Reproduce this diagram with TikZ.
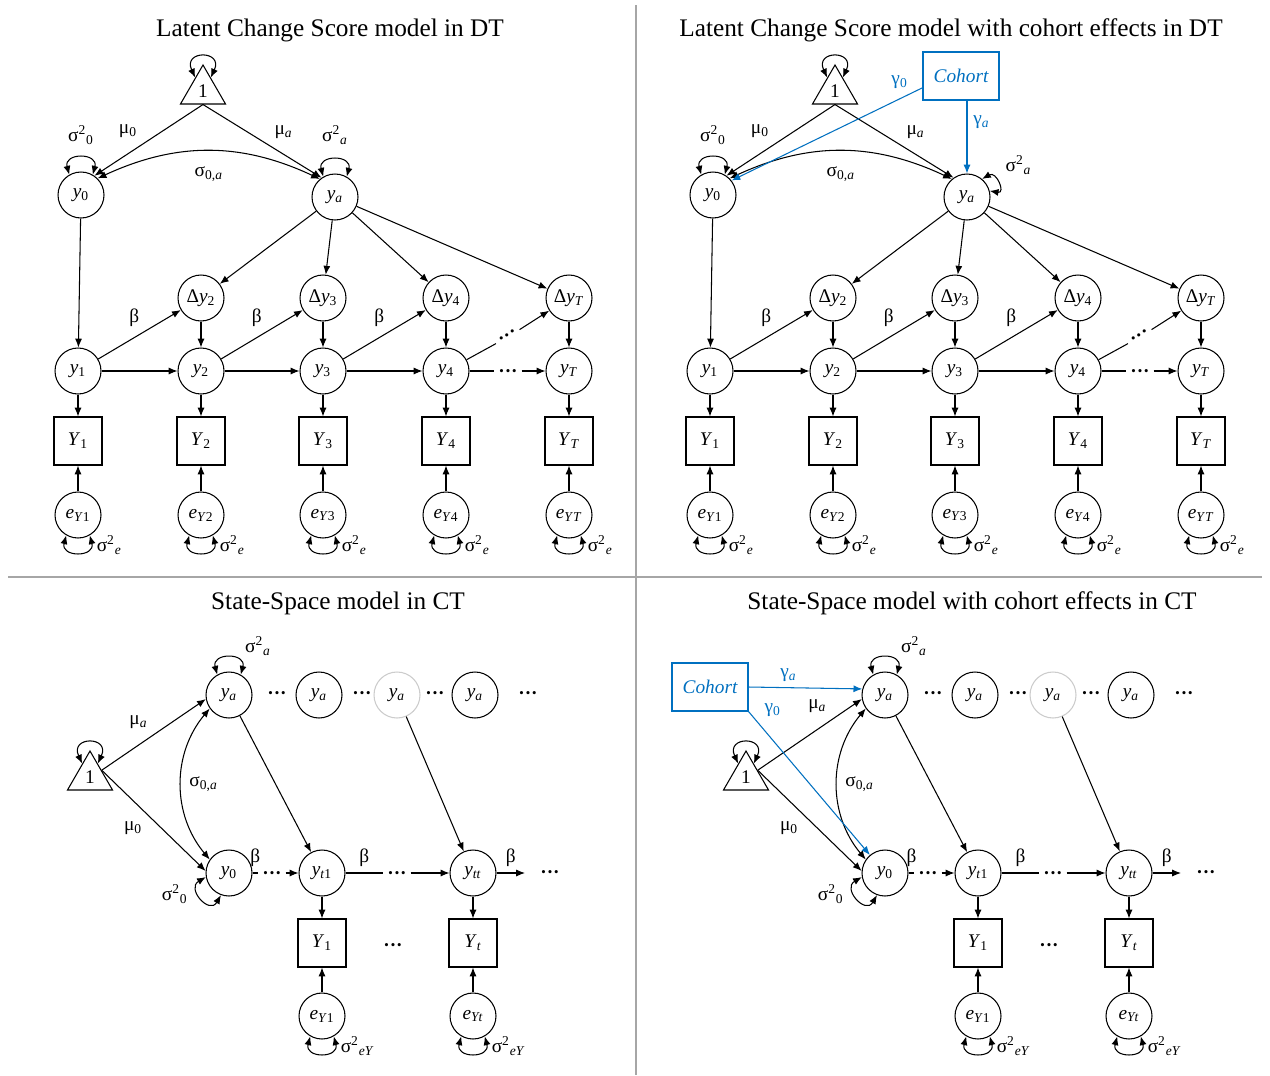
\documentclass[tikz,border=0pt]{standalone}
\usepackage{fontspec}
\setmainfont{Liberation Serif}
\usetikzlibrary{shapes.geometric,arrows.meta}

\definecolor{azulcoorte}{RGB}{0,112,192}

\tikzset{
  latente/.style={circle, draw, minimum size=0.92cm, inner sep=0pt},
  latentecinza/.style={latente, draw=black!20},
  observada/.style={rectangle, draw, minimum size=0.96cm, inner sep=0pt},
  constante/.style={regular polygon, regular polygon sides=3, draw, minimum size=1.04cm, inner sep=0pt},
  coorte/.style={rectangle, draw=azulcoorte, text=azulcoorte, minimum width=1.52cm, minimum height=0.96cm, font=\fontsize{11}{13}\selectfont\itshape},
  efeito/.style={->, azulcoorte},
  reticencias/.style={inner sep=2pt, font=\fontsize{11}{13}\selectfont\bfseries},
  titulo/.style={font=\fontsize{14.4}{17}\selectfont},
  divisao/.style={draw=black!35, line width=0.8pt},
}

\begin{document}
\begin{tikzpicture}[x=0.02cm, y=0.02cm, >={Latex[length=5pt,width=4pt]}, line width=0.6pt, font=\fontsize{11}{13}\selectfont]
    \useasboundingbox[fill=white] (0,0) rectangle (1270,-1075);
    % Divisões entre os painéis
    \draw[divisao] (636,-5) -- (636,-1075);
    \draw[divisao] (8,-577) -- (1262,-577);
    % Títulos
    \node[titulo] (tit1) at (330,-30) {Latent Change Score model in DT};
    \node[titulo] (tit2) at (951,-30) {Latent Change Score model with cohort effects in DT};
    \node[titulo] (tit3) at (338,-603) {State-Space model in CT};
    \node[titulo] (tit4) at (972,-603) {State-Space model with cohort effects in CT};

    % Modelo LCS (sem e com coorte)
    \foreach \dx in {0,632}{
    \begin{scope}[shift={(\dx,0)}]
        % Constante, nível e inclinação
        \node[constante] (um) at (203,-91) {1};
        \node[latente] (y0) at (81,-195) {\textit{y}\textsubscript{0}};
        \node[latente] (ya) at (335,-197) {\textit{y}\textsubscript{\textit{a}}};
        \draw[<->] (um.120) to[out=115,in=65,looseness=5] (um.60);
        \draw[->] (um.side 2) -- node[above left, pos=0.55]{μ\textsubscript{0}} (y0.55);
        \draw[->] (um.side 2) -- node[above right, pos=0.55]{μ\textsubscript{\textit{a}}} (ya.125);
        \draw[<->] (y0.45) to[bend left=25] node[below=5pt]{σ\textsubscript{0,\textit{a}}} (ya.130);
        \draw[<->] (y0.120) to[out=105,in=75,looseness=2.5] node[above=4pt]{σ\textsuperscript{2}\textsubscript{0}} (y0.60);
        \ifnum\dx=0
            \draw[<->] (ya.120) to[out=105,in=75,looseness=2.5] node[above=5pt]{σ\textsuperscript{2}\textsubscript{\textit{a}}} (ya.60);
        \else
            \draw[<->] (ya.50) to[out=30,in=-10,looseness=3] node[above right=1pt]{σ\textsuperscript{2}\textsubscript{\textit{a}}} (ya.15);
        \fi
        % Estados, medidas e erros
        \foreach \x/\t [count=\i] in {78/1,201/2,323/3,446/4,569/\textit{T}}{
            \node[latente] (y\i) at (\x,-371) {\textit{y}\textsubscript{\t}};
            \node[observada] (Y\i) at (\x,-441) {\textit{Y}\textsubscript{\t}};
            \node[latente] (e\i) at (\x,-515) {\textit{e}\textsubscript{\textit{Y}\t}};
            \draw[->] (y\i) -- (Y\i);
            \draw[->] (e\i) -- (Y\i);
            \draw[<->] (e\i.-120) to[out=-105,in=-75,looseness=2.5] node[pos=0.9, right=0pt, yshift=-2pt]{σ\textsuperscript{2}\textsubscript{\textit{e}}} (e\i.-60);
        }
        % Escores de mudança
        \foreach \x/\t [count=\i from 2] in {201/2,323/3,446/4,569/\textit{T}}{
            \node[latente] (d\i) at (\x,-298) {Δ\textit{y}\textsubscript{\t}};
            \draw[->] (ya) -- (d\i);
            \draw[->] (d\i) -- (y\i);
        }
        \draw[->] (y0) -- (y1);
        \foreach \i/\j in {1/2,2/3,3/4}{
            \draw[->] (y\i) -- (y\j);
            \draw[->] (y\i) -- node[midway, above=1pt, xshift=-3pt]{β} (d\j);
        }
        % Último intervalo
        \node[reticencias] (r1) at (508,-374) {···};
        \node[reticencias, rotate=31] (r2) at (508,-337) {···};
        \draw (y4) -- (r1.west |- y4);
        \draw[->] (r1.east |- y5) -- (y5);
        \draw (y4) -- (r2);
        \draw[->] (r2) -- (d5);
    \end{scope}
    }
    % Efeitos de coorte (LCS)
    \node[coorte] (coorte1) at (961,-76) {Cohort};
    \draw[efeito] (coorte1.south -| ya) -- node[pos=0.3, right]{γ\textsubscript{\textit{a}}} (ya);
    \draw[efeito] (coorte1.197) -- node[pos=0.12, above=2pt]{γ\textsubscript{0}} (y0.38);

    % Modelo de espaço de estados (sem e com coorte)
    \foreach \dx in {0,656}{
    \begin{scope}[shift={(\dx,0)}]
        % Constante, nível e inclinação
        \node[constante] (um) at (90,-777) {1};
        \node[latente] (ya) at (229,-695) {\textit{y}\textsubscript{\textit{a}}};
        \node[latente] (y0) at (229,-873) {\textit{y}\textsubscript{0}};
        \draw[<->] (um.120) to[out=115,in=65,looseness=5] (um.60);
        \ifnum\dx=0
            \draw[->] (um.side 3) -- node[above left, pos=0.5]{μ\textsubscript{\textit{a}}} (ya.190);
        \else
            \draw[->] (um.side 3) -- node[above left, pos=0.72]{μ\textsubscript{\textit{a}}} (ya.190);
        \fi
        \draw[->] (um.side 3) -- node[below left, pos=0.45]{μ\textsubscript{0}} (y0.175);
        \draw[<->] (ya.215) to[bend right=40] node[right=1pt]{σ\textsubscript{0,\textit{a}}} (y0.145);
        \draw[<->] (ya.120) to[out=105,in=75,looseness=2.5] node[pos=0.75, above right=0pt]{σ\textsuperscript{2}\textsubscript{\textit{a}}} (ya.60);
        \draw[<->] (y0.190) to[out=210,in=-120,looseness=2.5] node[pos=0.4, left=3pt]{σ\textsuperscript{2}\textsubscript{0}} (y0.-110);
        % Inclinações ao longo do tempo
        \node[latente] (ya2) at (319,-695) {\textit{y}\textsubscript{\textit{a}}};
        \node[latentecinza] (ya3) at (397,-695) {\textit{y}\textsubscript{\textit{a}}};
        \node[latente] (ya4) at (475,-695) {\textit{y}\textsubscript{\textit{a}}};
        \foreach \x [count=\i] in {277,362,435,528}
            \node[reticencias] (q\i) at (\x,-696) {···};
        % Estados latentes
        \node[latente] (yt1) at (322,-873) {\textit{y}\textsubscript{\textit{t}1}};
        \node[latente] (ytt) at (473,-873) {\textit{y}\textsubscript{\textit{tt}}};
        \node[reticencias] (p1) at (272,-876) {···};
        \node[reticencias] (p2) at (397,-876) {···};
        \node[reticencias] (p3) at (550,-875) {···};
        \coordinate (saida) at (525,-873);
        \draw (y0) -- node[above]{β} (p1.west |- y0);
        \draw[->] (p1.east |- yt1) -- (yt1);
        \draw (yt1) -- node[above]{β} (p2.west |- yt1);
        \draw[->] (p2.east |- ytt) -- (ytt);
        \draw[->] (ytt) -- node[above]{β} (saida);
        \draw[->] (ya) -- (yt1);
        \draw[->] (ya3) -- (ytt);
        % Medidas e erros
        \node[observada] (Y1) at (322,-943) {\textit{Y}\textsubscript{1}};
        \node[observada] (Yt) at (473,-943) {\textit{Y}\textsubscript{\textit{t}}};
        \node[reticencias] (p4) at (393,-948) {···};
        \node[latente] (e1) at (322,-1016) {\textit{e}\textsubscript{\textit{Y}1}};
        \node[latente] (et) at (473,-1016) {\textit{e}\textsubscript{\textit{Yt}}};
        \draw[->] (yt1) -- (Y1);
        \draw[->] (ytt) -- (Yt);
        \draw[->] (e1) -- (Y1);
        \draw[->] (et) -- (Yt);
        \draw[<->] (e1.-120) to[out=-105,in=-75,looseness=2.5] node[pos=0.9, right=0pt, yshift=-2pt]{σ\textsuperscript{2}\textsubscript{\textit{eY}}} (e1.-60);
        \draw[<->] (et.-120) to[out=-105,in=-75,looseness=2.5] node[pos=0.9, right=0pt, yshift=-2pt]{σ\textsuperscript{2}\textsubscript{\textit{eY}}} (et.-60);
    \end{scope}
    }
    % Efeitos de coorte (espaço de estados)
    \node[coorte] (coorte2) at (710,-687) {Cohort};
    \draw[efeito] (coorte2.east) -- node[pos=0.35, above]{γ\textsubscript{\textit{a}}} (ya.165);
    \draw[efeito] (coorte2.south east) -- node[pos=0.08, above right]{γ\textsubscript{0}} (y0.130);
\end{tikzpicture}
\end{document}
